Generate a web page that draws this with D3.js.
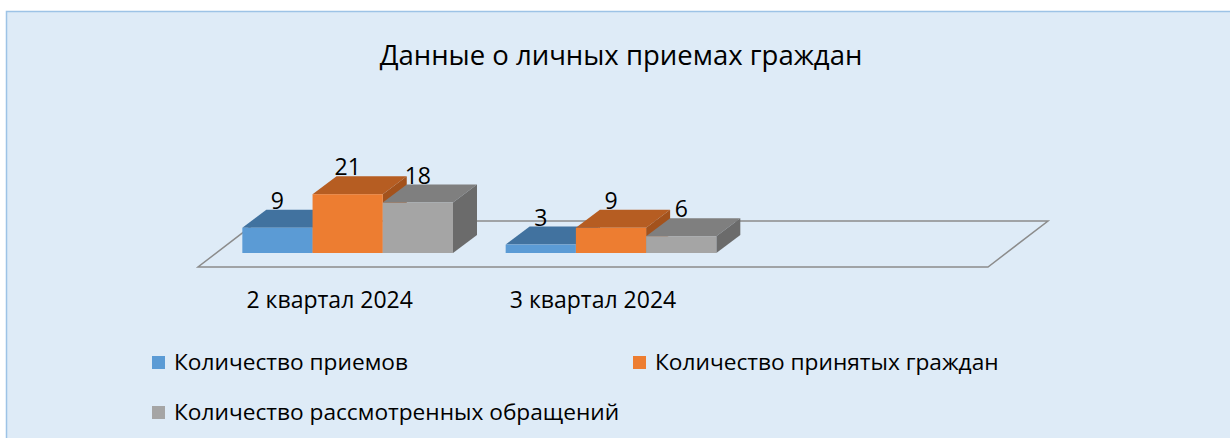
<!DOCTYPE html>
<html>
<head>
<meta charset="utf-8">
<script src="https://cdn.jsdelivr.net/npm/d3@7"></script>
<style>
  body { margin: 0; background: #ffffff; }
  text { font-family: "Open Sans", "Noto Sans", sans-serif; fill: #000; }
</style>
</head>
<body>
<svg id="chart" width="1230" height="438"></svg>
<script>
// chart data
const categories = ["2 квартал 2024", "3 квартал 2024", ""]
const seriesNames = ["Количество приемов", "Количество принятых граждан", "Количество рассмотренных обращений"]
const priemy = [9, 3, null]
const grazhdane = [21, 9, null]
const obrashcheniya = [18, 6, null]
const values = [priemy, grazhdane, obrashcheniya]

const colors = [
    { front: "#5b9bd5", top: "#41729f", side: "#3a6690" },
    { front: "#ed7d31", top: "#b65d22", side: "#a3521c" },
    { front: "#a5a5a5", top: "#7f7f7f", side: "#6b6b6b" }
]

let svg = d3.select("#chart")

// Background panel
svg.append("rect")
    .attr("x", 6.5).attr("y", 11.5)
    .attr("width", 1240).attr("height", 440)
    .attr("fill", "#deebf7")
    .attr("stroke", "#9dc3e6")
    .attr("stroke-width", 1.5)

// Title
svg.append("text")
    .attr("x", 621).attr("y", 65)
    .attr("text-anchor", "middle")
    .style("font-size", "27.5px")
    .text("Данные о личных приемах граждан")

// Floor geometry
const floorFront = 267
const floorLeft = 198
const floorRight = 988
const floorDx = 60, floorDy = 46
const barOffsetX = 18, barOffsetY = 14
const depthX = 24, depthY = 18

// scales
let x0 = d3.scaleBand()
    .domain(categories.map((d, i) => i))
    .range([floorLeft + barOffsetX, floorRight + barOffsetX])

let padBand = x0.bandwidth() * 0.1
let x1 = d3.scaleBand()
    .domain(d3.range(seriesNames.length))
    .range([padBand, x0.bandwidth() - padBand])

let baseY = floorFront - barOffsetY
let y = d3.scaleLinear()
    .domain([0, 25])
    .range([baseY, baseY - 70])

// Floor outline
svg.append("path")
    .attr("d", d3.line()([
        [floorLeft + floorDx, floorFront - floorDy],
        [floorLeft, floorFront],
        [floorRight, floorFront],
        [floorRight + floorDx, floorFront - floorDy],
        [floorLeft + floorDx, floorFront - floorDy]
    ]))
    .attr("fill", "none")
    .attr("stroke", "#8c8c8c")
    .attr("stroke-width", 1.5)

// Bars
let bars = svg.append("g").attr("class", "bars")

categories.forEach((cat, ci) => {
    values.forEach((series, si) => {
        let v = series[ci]
        if (v == null) return
        let xl = x0(ci) + x1(si)
        let xr = xl + x1.bandwidth()
        let yt = y(v)
        let yb = y(0)
        let c = colors[si]
        let g = bars.append("g")
        // top face
        g.append("path")
            .attr("d", d3.line()([[xl, yt], [xl + depthX, yt - depthY], [xr + depthX, yt - depthY], [xr, yt]]) + "Z")
            .attr("fill", c.top)
        // side face
        g.append("path")
            .attr("d", d3.line()([[xr, yt], [xr + depthX, yt - depthY], [xr + depthX, yb - depthY], [xr, yb]]) + "Z")
            .attr("fill", c.side)
        // front face
        g.append("rect")
            .attr("x", xl).attr("y", yt)
            .attr("width", xr - xl).attr("height", yb - yt)
            .attr("fill", c.front)
    })
})

// Data labels
categories.forEach((cat, ci) => {
    values.forEach((series, si) => {
        let v = series[ci]
        if (v == null) return
        svg.append("text")
            .attr("x", x0(ci) + x1(si) + x1.bandwidth() / 2)
            .attr("y", y(v) - depthY - 1)
            .attr("text-anchor", "middle")
            .style("font-size", "23px")
            .text(v)
    })
})

// Category labels
let xFront = d3.scaleBand()
    .domain(categories.map((d, i) => i))
    .range([floorLeft, floorRight])

svg.append("g")
    .selectAll("text")
    .data(categories)
    .join("text")
    .attr("x", (d, i) => xFront(i) + xFront.bandwidth() / 2)
    .attr("y", 308)
    .attr("text-anchor", "middle")
    .style("font-size", "23px")
    .text(d => d)

// Legend
const legendPos = [[152, 362], [633, 362], [152, 412]]
let legend = svg.append("g").attr("class", "legend")
seriesNames.forEach((name, i) => {
    let [lx, ly] = legendPos[i]
    legend.append("rect")
        .attr("x", lx).attr("y", ly - 6)
        .attr("width", 13).attr("height", 13)
        .attr("fill", colors[i].front)
    legend.append("text")
        .attr("x", lx + 22).attr("y", ly + 8)
        .style("font-size", "22.7px")
        .text(name)
})
</script>
</body>
</html>
